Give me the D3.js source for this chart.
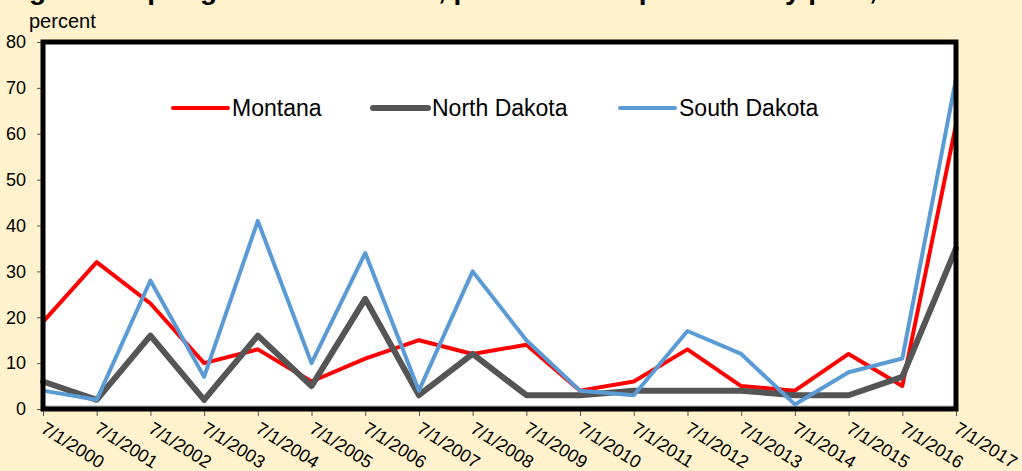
<!DOCTYPE html>
<html>
<head>
<meta charset="utf-8">
<script src="https://cdn.jsdelivr.net/npm/d3@7/dist/d3.min.js"></script>
<style>
  html, body { margin: 0; padding: 0; background: #FFF2CC; }
  svg { display: block; font-family: "Liberation Sans", Arial, sans-serif; }
</style>
</head>
<body>
<svg id="chart" width="1022" height="471"></svg>
<script>
// Chart data
const dates = ["7/1/2000","7/1/2001","7/1/2002","7/1/2003","7/1/2004","7/1/2005",
  "7/1/2006","7/1/2007","7/1/2008","7/1/2009","7/1/2010","7/1/2011","7/1/2012",
  "7/1/2013","7/1/2014","7/1/2015","7/1/2016","7/1/2017"];
const montana     = [19, 32, 23, 10, 13, 6, 11, 15, 12, 14, 4, 6, 13, 5, 4, 12, 5, 62];
const northDakota = [6, 2, 16, 2, 16, 5, 24, 3, 12, 3, 3, 4, 4, 4, 3, 3, 7, 35];
const southDakota = [4, 2, 28, 7, 41, 10, 34, 4, 30, 15, 4, 3, 17, 12, 1, 8, 11, 72];
const yTicks = [0, 10, 20, 30, 40, 50, 60, 70, 80];
const seriesNames = ["Montana", "North Dakota", "South Dakota"];

const titleText = "Figure 3. Spring wheat condition, percent rated poor to very poor, 2000-2017";
const unitText = "percent";

const series = [
  { name: seriesNames[0], values: montana,     color: "#FF0000", width: 4 },
  { name: seriesNames[1], values: northDakota, color: "#555555", width: 6 },
  { name: seriesNames[2], values: southDakota, color: "#5B9BD5", width: 4 }
];

const svg = d3.select("#chart");
const plotLeft = 43, plotRight = 956, plotTop = 42, plotBottom = 409;

const x = d3.scalePoint().domain(dates).range([plotLeft, plotRight]);
const y = d3.scaleLinear().domain([0, 80]).range([plotBottom, plotTop]);

// Title (runs off the top edge)
svg.append("text")
  .attr("x", 4).attr("y", -1)
  .attr("font-size", 28).attr("font-weight", "bold").attr("fill", "#000")
  .text(titleText);

// Unit label
svg.append("text")
  .attr("x", 29).attr("y", 28)
  .attr("font-size", 20).attr("fill", "#000")
  .text(unitText);

// Plot area
svg.append("rect")
  .attr("x", plotLeft).attr("y", plotTop)
  .attr("width", plotRight - plotLeft).attr("height", plotBottom - plotTop)
  .attr("fill", "#FFFFFF");

// Y axis
const yAxis = svg.append("g")
  .attr("transform", `translate(${plotLeft},0)`)
  .call(d3.axisLeft(y).tickValues(yTicks).tickSize(6).tickPadding(11));
yAxis.select(".domain").remove();
yAxis.selectAll(".tick line").attr("stroke", "#555").attr("stroke-width", 1);
yAxis.selectAll(".tick text")
  .attr("font-size", 18).attr("fill", "#000")
  .attr("font-family", "'Liberation Sans', Arial, sans-serif");

// X axis
const xAxis = svg.append("g")
  .attr("transform", `translate(0,${plotBottom})`)
  .call(d3.axisBottom(x).tickSize(7));
xAxis.select(".domain").remove();
xAxis.selectAll(".tick line").attr("stroke", "#555").attr("stroke-width", 1);
xAxis.selectAll(".tick text")
  .attr("font-size", 18).attr("fill", "#000")
  .attr("font-family", "'Liberation Sans', Arial, sans-serif")
  .attr("text-anchor", "start")
  .attr("x", 0).attr("y", 0).attr("dy", "0.71em")
  .attr("transform", "translate(3,12) rotate(32)");

// Inner baseline
svg.append("line")
  .attr("x1", plotLeft).attr("x2", plotRight)
  .attr("y1", y(0) - 3).attr("y2", y(0) - 3)
  .attr("stroke", "#A6A6A6").attr("stroke-width", 1);

// Series lines
const line = d3.line()
  .x((d, i) => x(dates[i]))
  .y(d => y(d));

svg.append("g").selectAll("path")
  .data(series)
  .join("path")
  .attr("d", d => line(d.values))
  .attr("fill", "none")
  .attr("stroke", d => d.color)
  .attr("stroke-width", d => d.width)
  .attr("stroke-linejoin", "round")
  .attr("stroke-linecap", "round");

// Plot border
svg.append("rect")
  .attr("x", plotLeft).attr("y", plotTop)
  .attr("width", plotRight - plotLeft).attr("height", plotBottom - plotTop)
  .attr("fill", "none").attr("stroke", "#000").attr("stroke-width", 5);

// Legend
const legendX = [173, 373, 620];
const legend = svg.append("g").selectAll("g")
  .data(series)
  .join("g")
  .attr("transform", (d, i) => `translate(${legendX[i]},108)`);
legend.append("line")
  .attr("x1", 0).attr("x2", 55).attr("y1", 0).attr("y2", 0)
  .attr("stroke", d => d.color)
  .attr("stroke-width", d => d.width)
  .attr("stroke-linecap", "round");
legend.append("text")
  .attr("x", 59).attr("y", 8)
  .attr("font-size", 23).attr("fill", "#000")
  .text(d => d.name);
</script>
</body>
</html>
